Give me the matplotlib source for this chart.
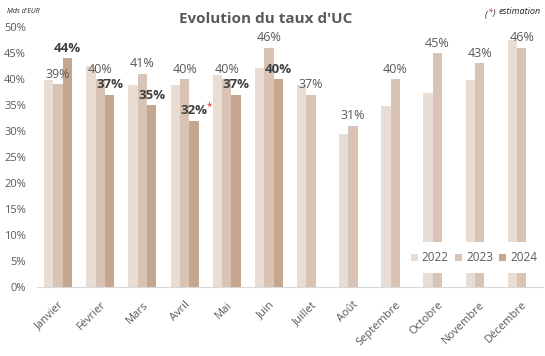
import numpy as np
import matplotlib
matplotlib.use("Agg")
import matplotlib.pyplot as plt

MONTHS = ["Janvier", "Février", "Mars", "Avril", "Mai", "Juin", "Juillet",
          "Août", "Septembre", "Octobre", "Novembre", "Décembre"]
UC_2022 = [39.8, 42.5, 38.8, 38.8, 40.7, 42.1, 38.8, 29.4, 34.8, 37.4, 39.8, 47.6]
UC_2023 = [39, 40, 41, 40, 40, 46, 37, 31, 40, 45, 43, 46]
UC_2024 = [44, 37, 35, 32, 37, 40]
ESTIMATED_2024 = [False, False, False, True, False, False]
YEARS = ["2022", "2023", "2024"]

COLORS = ["#E8DCD3", "#D8C3B4", "#C5A78F"]
TEXT_GRAY = "#595959"
DARK_GRAY = "#404040"
NOTE_BLACK = "#262626"
RED = "#E02020"

plt.rcParams.update({
    "font.family": ["Open Sans", "DejaVu Sans"],
    "axes.spines.top": False,
    "axes.spines.right": False,
    "axes.spines.left": False,
})

fig = plt.figure(figsize=(5.45, 3.56), dpi=100)
ax = fig.add_axes([0.068, 0.194, 0.928, 0.730])

x = np.arange(len(MONTHS))
w = 0.222
series = [UC_2022, UC_2023, UC_2024]
bars = []
for i, (vals, color, year) in enumerate(zip(series, COLORS, YEARS)):
    xs = x[:len(vals)] + (i - 1) * w
    bars.append(ax.bar(xs, vals, width=w, color=color, label=year, zorder=2))

# labels 2023 (regular) and 2024 (bold)
for rect, v in zip(bars[1], UC_2023):
    ax.annotate(f"{v:.0f}%", (rect.get_x() + rect.get_width() / 2, v),
                xytext=(0, 2.5), textcoords="offset points",
                ha="center", va="bottom", fontsize=9, color=TEXT_GRAY)
for rect, v, est in zip(bars[2], UC_2024, ESTIMATED_2024):
    t = ax.annotate(f"{v:.0f}%", (rect.get_x() + rect.get_width() / 2, v),
                    xytext=(0, 2.5), textcoords="offset points",
                    ha="center", va="bottom", fontsize=9.5, fontweight="bold",
                    color=DARK_GRAY)
    if est:
        ax.annotate("*", xy=(0.96, 0.8), xycoords=t, ha="left", va="center",
                    fontsize=7, color=RED)

ax.set_xlim(-0.5, len(MONTHS) - 0.5)
ax.set_ylim(0, 50)
ax.set_yticks(np.arange(0, 51, 5))
ax.set_yticklabels([f"{v}%" for v in range(0, 51, 5)])
ax.set_xticks(x)
ax.set_xticklabels(MONTHS, rotation=45, ha="right", rotation_mode="anchor")
ax.tick_params(axis="both", length=0, labelsize=8, labelcolor=TEXT_GRAY)
ax.tick_params(axis="x", pad=9)
ax.tick_params(axis="y", pad=8)
ax.spines["bottom"].set_color("#D9D9D9")
ax.spines["bottom"].set_linewidth(0.8)

leg = ax.legend(loc="center", bbox_to_anchor=(0.87, 0.276),
                bbox_transform=fig.transFigure, ncol=3, frameon=True,
                fontsize=8.5, handlelength=0.55, handleheight=0.55,
                handletextpad=0.35, columnspacing=0.55, borderpad=0.75,
                labelcolor=TEXT_GRAY)
leg.get_frame().set_facecolor("white")
leg.get_frame().set_edgecolor("none")
leg.get_frame().set_alpha(1)
leg.get_frame().set_boxstyle("square", pad=0)

fig.text(0.487, 0.946, "Evolution du taux d'UC", ha="center", va="center",
         fontsize=11, fontweight="bold", color=TEXT_GRAY)
fig.text(0.012, 0.968, "Mds d'EUR", ha="left", va="center",
         fontsize=5, style="italic", color=NOTE_BLACK)

# "(*) estimation" with a red asterisk, built right to left
note_style = dict(fontsize=6.5, style="italic", va="baseline", ha="right",
                  annotation_clip=False)
note_y = 0.962
note = ax.annotate("estimation", xy=(0.993, note_y), xycoords="figure fraction",
                   color=NOTE_BLACK, **note_style)
close = ax.annotate(")", xy=(0, 0), xycoords=note, xytext=(-2.5, 0),
                    textcoords="offset points", color=NOTE_BLACK, **note_style)
star = ax.annotate("*", xy=(0, 0), xycoords=close, xytext=(-0.3, 1.2),
                   textcoords="offset points", color=RED, **note_style)
ax.annotate("(", xy=(0, 0), xycoords=close, xytext=(-4.2, 0),
            textcoords="offset points", color=NOTE_BLACK, **note_style)

fig.savefig("out.png", dpi=100)
